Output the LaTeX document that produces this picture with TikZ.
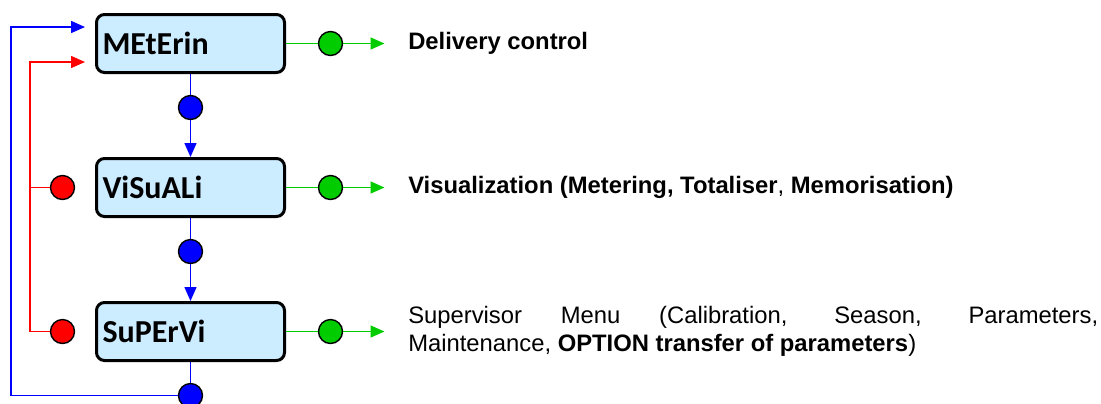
\documentclass[tikz,border=0pt]{standalone}
\usepackage{fontspec}
\setmainfont{Liberation Sans}
\newfontfamily\menufont{Carlito}
\usepackage{xcolor}
\usepackage{tikz}
\usetikzlibrary{arrows.meta, positioning, calc}
\definecolor{boxblue}{HTML}{CCECFF}
\definecolor{dotgreen}{HTML}{00CC00}
\tikzstyle{arrow} = [-{Triangle[length=7pt,width=6pt]}]

\begin{document}
\begin{tikzpicture}[x=0.5pt, y=-0.5pt, node distance=72pt, on grid, line width=0.75pt]
        \tikzstyle{menu}=[
            draw,
            line width=1.5pt,
            rounded corners=4pt,
            fill=boxblue,
            minimum width=94pt, minimum height=29pt, % box size
            text width=88pt,
            inner sep=0pt,
            align=left,
            font=\menufont\bfseries\fontsize{16}{18}\selectfont
        ]
        \tikzstyle{dot}=[circle, draw=black, line width=0.7pt, minimum size=12pt, inner sep=0pt]
        \tikzstyle{outtext}=[anchor=west, inner sep=0pt, font=\fontsize{11.9}{14}\selectfont]

        \useasboundingbox (0,0) rectangle (1101,403);

        \node[menu] (meterin) at (190.5,43.5) {MEtErin};
        \node[menu] (visuali) [below=of meterin] {ViSuALi};
        \node[menu] (supervi) [below=of visuali] {SuPErVi};

        % blue dots under the menus
        \node[dot, fill=blue] (b1) [below=32pt of meterin] {};
        \node[dot, fill=blue] (b2) [below=32pt of visuali] {};
        \node[dot, fill=blue] (b3) [below=32pt of supervi] {};

        % red dots
        \node[dot, fill=red] (r2) [left=64pt of visuali] {};
        \node[dot, fill=red] (r3) [left=64pt of supervi] {};

        % green dots
        \node[dot, fill=dotgreen] (g1) [right=70pt of meterin] {};
        \node[dot, fill=dotgreen] (g2) [right=70pt of visuali] {};
        \node[dot, fill=dotgreen] (g3) [right=70pt of supervi] {};

        \coordinate (out1) at ([xshift=27pt]g1.center);
        \coordinate (out2) at ([xshift=27pt]g2.center);
        \coordinate (out3) at ([xshift=27pt]g3.center);

        \coordinate (bluein) at ([xshift=-5pt, yshift=8.25pt]meterin.west);
        \coordinate (redin) at ([xshift=-5pt, yshift=-9.25pt]meterin.west);
        \coordinate (bluex) at (11,0);
        \coordinate (redx) at (30,0);

        \node[outtext] (t1) at ([xshift=11.5pt]out1) {\textbf{Delivery control}};
        \node[outtext] (t2) at ([xshift=11.5pt]out2) {\textbf{Visualization (Metering, Totaliser}, \textbf{Memorisation)}};
        \node[outtext, text width=345pt, align=justify] (t3) at ([xshift=11.5pt]out3)
            {Supervisor Menu (Calibration, Season, Parameters,\linebreak
             Maintenance, \textbf{OPTION transfer of parameters})};

        \draw[blue] (meterin) -- (b1);
        \draw[blue, arrow] (b1) -- (visuali);
        \draw[blue] (visuali) -- (b2);
        \draw[blue, arrow] (b2) -- (supervi);
        \draw[blue] (supervi) -- (b3);
        \draw[blue, arrow] (b3) -- (b3 -| bluex) |- (bluein);

        \draw[red, arrow] (r3) -- (r3 -| redx) |- (redin);
        \draw[red] (r2) -- (r2 -| redx);

        \draw[dotgreen] (meterin) -- (g1);
        \draw[dotgreen, arrow] (g1) -- (out1);
        \draw[dotgreen] (visuali) -- (g2);
        \draw[dotgreen, arrow] (g2) -- (out2);
        \draw[dotgreen] (supervi) -- (g3);
        \draw[dotgreen, arrow] (g3) -- (out3);

    \end{tikzpicture}
\end{document}
